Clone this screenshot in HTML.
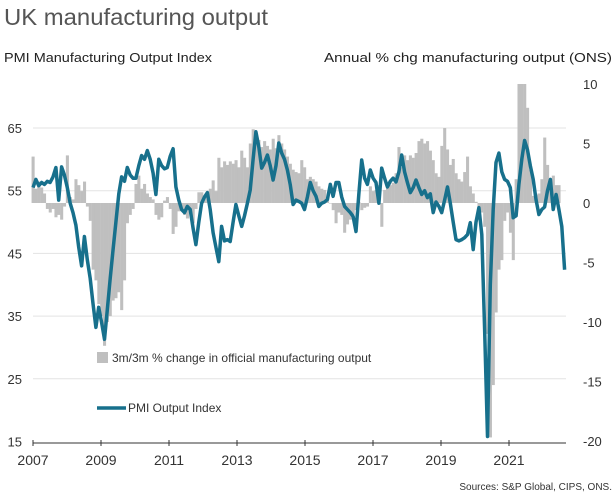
<!DOCTYPE html>
<html><head><meta charset="utf-8"><style>
html,body{margin:0;padding:0;background:#fff;}
svg{display:block;font-family:"Liberation Sans",Arial,sans-serif;}
</style></head><body>
<svg id="chart" width="615" height="500" viewBox="0 0 615 500" xmlns="http://www.w3.org/2000/svg">
<text x="4" y="25" font-size="23" fill="#555" textLength="264" lengthAdjust="spacingAndGlyphs">UK manufacturing output</text>
<text x="4" y="62" font-size="13" fill="#222" textLength="208" lengthAdjust="spacingAndGlyphs">PMI Manufacturing Output Index</text>
<text x="612" y="62" font-size="13" fill="#222" text-anchor="end" textLength="288" lengthAdjust="spacingAndGlyphs">Annual % chg manufacturing output (ONS)</text>
<g id="grid"></g>
<g id="bars"></g>
<g id="line"></g>
<g id="axes"></g>
<g>
<rect x="97" y="352" width="11" height="11" fill="#bfbfbf"/>
<text x="112" y="362" font-size="12" fill="#333">3m/3m % change in official manufacturing output</text>
<line x1="97" y1="408" x2="126" y2="408" stroke="#17708c" stroke-width="3.5"/>
<text x="128" y="412" font-size="12" fill="#333">PMI Output Index</text>
</g>
<text x="612" y="490" font-size="10" fill="#333" text-anchor="end">Sources: S&amp;P Global, CIPS,  ONS.</text>
</svg>
<script>
const yearLabels = ["2007","2009","2011","2013","2015","2017","2019","2021"];
const leftTicks = [15,25,35,45,55,65];
const rightTicks = [10,5,0,-5,-10,-15,-20];
const pmi = [
55.5,56.8,55.8,56.3,56,56.5,56.3,57.2,58.7,53.5,58.8,57.5,
55.5,53,51.5,49.5,46,43,47.7,44,41,37,33.2,36.4,
34,31.3,36,41,45.5,50,54.5,57.2,56.5,58.7,57.5,57,
57,59,60.6,60,61.4,60,57.8,54.4,60,59,58.5,58.7,
60.5,61.7,55.6,53.5,52,51.5,52.5,52,49,46.4,50,53,
54,54.7,52,48.3,46,43.7,49.3,47,47.2,46.9,50,52.8,
51,49.3,51,53,55.1,60,64.4,62,58.6,59.5,60.7,59,
56.7,59,62.6,61,60,58.3,56,52.8,53.5,53.3,53,52,
54,56.3,55,54.1,52.5,53,53.2,53.6,56,54.1,56.3,56.3,
54,52.5,52,51.5,50.9,48.5,54.4,59.9,57,56,58.3,57,
56.3,53,58.6,57,55.6,56.5,57,56.4,58,60.7,58,56.3,
54.7,55.5,56.7,55.5,54.4,55,53.9,54.5,51.5,53.2,52.5,51.5,
53.5,55.6,53,50,47.2,47,47.2,47.5,48,49.9,45.6,50,
52.3,48,33,15.8,40,52,59.5,61,58,56.8,56.5,55.5,
50.7,51,56,60,63,61.5,59,56.8,53.5,51.2,52,52.4,
55,56.8,52,54.4,52,49.3,42.4];
const ons = [
3.9,1.2,1.8,1.3,0.8,-0.5,-0.8,-0.5,-1.2,-1.0,-1.4,-0.3,
4.0,0.5,0.3,2.0,1.5,1.0,1.8,-0.3,-1.5,-5.6,-6.5,-8.5,
-9.5,-12,-10,-9.5,-8.2,-8,-7.5,-9,-6.5,-1.7,-1.0,-0.5,
1.6,2.3,1.2,1.6,0.8,0.5,0.3,-1.0,-1.4,-1.2,0.2,0.5,
-0.5,-2.6,-2.0,-0.7,-0.5,-1.0,-1.3,-0.7,-1.7,-0.5,0.9,0.9,
0.5,0.8,1.2,1.9,1.0,3.8,3.0,3.5,3.2,3.5,3.3,3.6,
3.0,4.4,3.8,3.0,5.0,6.2,5.9,5.3,4.7,5.2,4.8,4.5,
5.4,4.6,5.7,5.0,4.5,3.9,3.3,2.8,2.6,2.5,3.6,3.0,
2.0,2.2,2.0,1.8,1.4,1.2,1.1,0.5,0,-0.6,-1.7,-0.8,
-1.0,-2.5,-1.8,-1.4,-1.0,-0.6,0.1,-0.6,-0.4,-0.3,1.4,1.0,
1.1,1.5,-2.0,1.1,1.3,1.5,1.7,2.5,4.7,3.0,4.0,3.6,
4.0,3.8,4.2,5.2,5.4,5.0,5.2,4.4,3.6,2.5,2.2,4.8,
6.3,4.5,3.2,3.7,2.5,2.0,1.8,2.6,3.9,1.4,0.8,0.1,
-0.3,-0.8,-2,-11,-19.7,-15.3,-9.2,-5.6,-4.8,-1.5,-0.8,-2.5,
-4.8,2.0,10,10,10,8,2.8,0.6,0.7,0.8,2.0,5.5,
3.2,1.7,2.3,1.5,1.5];

const NS="http://www.w3.org/2000/svg";
const X0=33, X1=566, PX_YEAR=34.3, TICK_YEAR=34;
function xm(m){return X0+m*PX_YEAR/12;}
function yl(v){return 128+(65-v)*6.27;}
function yr(v){return 203-v*11.9;}
function mk(tag,attrs,parent){const e=document.createElementNS(NS,tag);for(const k in attrs)e.setAttribute(k,attrs[k]);parent.appendChild(e);return e;}
const grid=document.getElementById('grid'),bars=document.getElementById('bars'),line=document.getElementById('line'),axes=document.getElementById('axes');
leftTicks.forEach(v=>{
  if(v>15){const g=mk('line',{x1:X0,x2:X1,y1:yl(v),y2:yl(v),stroke:'#e3e3e3','stroke-width':1},grid);
  
  }
  const t=mk('text',{x:22,y:yl(v)+5,'font-size':13,fill:'#333','text-anchor':'end'},axes);
  t.textContent=v;
  
  
});
rightTicks.forEach(v=>{
  const t=mk('text',{x:583,y:yr(v)+5,'font-size':13,fill:'#333'},axes);
  t.textContent=v;
  
  
});
const bw=PX_YEAR/12;
ons.forEach((v,i)=>{
  const y0=yr(0),y1=yr(v);
  const r=mk('rect',{x:xm(i)-bw/2,y:Math.min(y0,y1),width:bw+0.2,height:Math.max(0.5,Math.abs(y1-y0)),fill:'#bfbfbf'},bars);
  
  
});
const p=mk('path',{d:pmi.map((v,i)=>(i?'L':'M')+xm(i).toFixed(1)+','+yl(v).toFixed(1)).join(''),fill:'none',stroke:'#17708c','stroke-width':3.5,'stroke-linejoin':'round'},line);


const ax=mk('line',{x1:X0,x2:X1,y1:443,y2:443,stroke:'#333','stroke-width':1},axes);


yearLabels.forEach((lab,i)=>{
  const x=X0+i*2*TICK_YEAR;
  const tk=mk('line',{x1:x,x2:x,y1:440,y2:446,stroke:'#333','stroke-width':1},axes);
  
  
  const t=mk('text',{x:x,y:465,'font-size':14,fill:'#333','text-anchor':'middle'},axes);
  t.textContent=lab;
  
  
});
</script>
</body></html>
